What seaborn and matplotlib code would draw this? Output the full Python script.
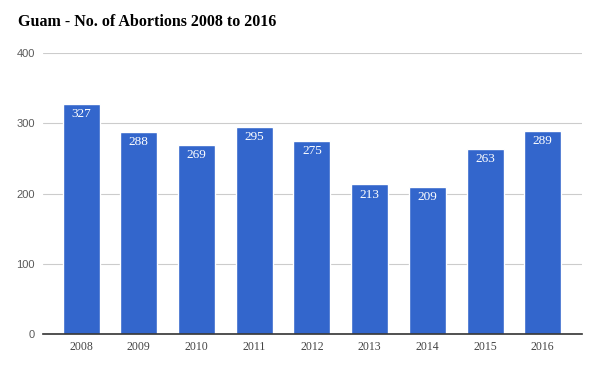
import matplotlib
matplotlib.use("Agg")
import matplotlib.pyplot as plt
import seaborn as sns
import pandas as pd

years = ["2008", "2009", "2010", "2011", "2012", "2013", "2014", "2015", "2016"]
abortions = [327, 288, 269, 295, 275, 213, 209, 263, 289]
title = "Guam - No. of Abortions 2008 to 2016"
y_ticks = [0, 100, 200, 300, 400]

sns.set_theme(style="white")
plt.rcParams['font.family'] = ['Liberation Serif', 'DejaVu Serif']

df = pd.DataFrame({"year": years, "count": abortions})

fig = plt.figure(figsize=(6, 3.71), dpi=100)
ax = fig.add_axes([43/600, 1-334/371, (582-43)/600, (334-53)/371])

sns.barplot(data=df, x="year", y="count", color="#3366CC", saturation=1,
            width=0.64, ax=ax, zorder=3)

ax.set_xlim(-0.66, 8.68)
ax.set_ylim(0, 400)
ax.set_yticks(y_ticks)
ax.set_yticklabels([str(t) for t in y_ticks], family=['Liberation Sans'], fontsize=8, color="#5a5a5a")
for lab in ax.get_xticklabels():
    lab.set_fontsize(8.5)
    lab.set_color("#444444")
ax.tick_params(axis='both', length=0, pad=6)
ax.tick_params(axis='x', pad=5)
ax.yaxis.grid(True, color="#cccccc", linewidth=0.8, zorder=0)
ax.set_xlabel("")
ax.set_ylabel("")
for s in ["top", "right", "left"]:
    ax.spines[s].set_visible(False)
ax.spines["bottom"].set_color("#333333")
ax.spines["bottom"].set_linewidth(1.2)
ax.spines["bottom"].set_zorder(4)

for i, v in enumerate(abortions):
    ax.text(i, v - 6, str(v), ha="center", va="top", color="white",
            fontsize=9.5, fontweight="normal", zorder=5)

fig.text(18/600, 1-22/371, title, fontsize=11.5, fontweight="bold", ha="left",
         va="center", color="black")

fig.savefig("out.png", dpi=100)
